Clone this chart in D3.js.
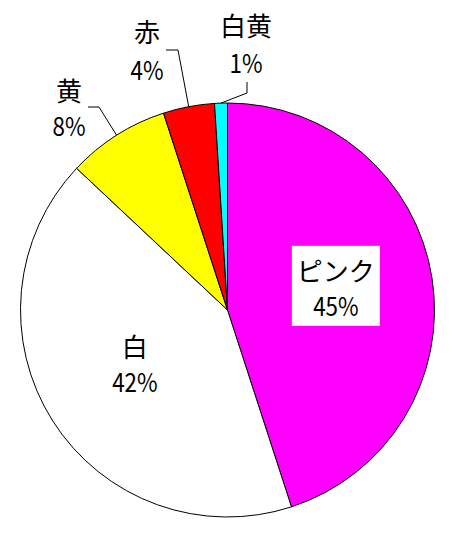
<!DOCTYPE html>
<html><head><meta charset="utf-8">
<script src="https://cdn.jsdelivr.net/npm/d3@7"></script>
<style>html,body{margin:0;padding:0;background:#fff;}svg{display:block;}</style>
</head><body>
<svg id="c" width="452" height="541"></svg>
<script>
// Data
const categories = ["ピンク", "白", "黄", "赤", "白黄"];
const values = [45, 42, 8, 4, 1];
const percentLabels = ["45%", "42%", "8%", "4%", "1%"];
const colors = ["#FF00FF", "#FFFFFF", "#FFFF00", "#FF0000", "#00FFFF"];

// Layout (not data)
const W = 452, H = 541, cx = 227.5, cy = 310, R = 207;
const fontFam = "'Noto Sans CJK JP', 'Noto Sans', sans-serif";
const fs = 26;
const outside = {
  "黄":   {x: 69,  b1: 101, b2: 136, ex: 99,  ey: 107, tx: 88,  ty: 107},
  "赤":   {x: 147, b1: 42,  b2: 80,  ex: 178, ey: 50,  tx: 166, ty: 50},
  "白黄": {x: 246, b1: 36,  b2: 73,  ex: 247, ey: 93,  tx: 247, ty: 82}
};

const svg = d3.select("#c");
const g = svg.append("g").attr("transform", `translate(${cx},${cy})`);

const pie = d3.pie().sort(null).value(d => d.v);
const data = categories.map((c, i) => ({c, v: values[i], p: percentLabels[i], col: colors[i]}));
const arcs = pie(data);
const arc = d3.arc().innerRadius(0).outerRadius(R);
const rimArc = d3.arc().innerRadius(R).outerRadius(R);
const labelArc = d3.arc().innerRadius(R * 1.06).outerRadius(0);

g.selectAll("path.slice").data(arcs).join("path")
  .attr("class", "slice")
  .attr("d", arc)
  .attr("fill", d => d.data.col)
  .attr("stroke", "#000")
  .attr("stroke-width", 1);

function addText(parent, x, y, str, narrow) {
  const t = parent.append("text").attr("text-anchor", "middle")
    .attr("font-family", fontFam).attr("font-size", fs)
    .attr("font-weight", 400)
    .attr("fill", "#000").attr("x", x).attr("y", y).text(str);
  if (narrow) {
    const w = t.node().getComputedTextLength();
    t.attr("textLength", w * 0.86).attr("lengthAdjust", "spacingAndGlyphs");
  }
  return t;
}

arcs.forEach(d => {
  const o = outside[d.data.c];
  if (o) {
    const s = rimArc.centroid(d);
    const pts = [[s[0] + cx, s[1] + cy], [o.ex, o.ey], [o.tx, o.ty]];
    svg.append("path")
      .attr("d", d3.line()(pts))
      .attr("fill", "none").attr("stroke", "#000").attr("stroke-width", 1);
    addText(svg, o.x, o.b1, d.data.c, false);
    addText(svg, o.x, o.b2, d.data.p, true);
  } else {
    const c = labelArc.centroid(d);
    const x = c[0] + cx, y = c[1] + cy;
    const lg = svg.append("g");
    const t1 = addText(lg, x, y - 12, d.data.c, false);
    const t2 = addText(lg, x, y + 23, d.data.p, true);
    if (d.data.c === "ピンク") {
      const b1 = t1.node().getBBox(), b2 = t2.node().getBBox();
      const x0 = Math.min(b1.x, b2.x), x1 = Math.max(b1.x + b1.width, b2.x + b2.width);
      const y0 = b1.y, y1 = b2.y + b2.height;
      lg.insert("rect", "text")
        .attr("x", x0 - 5).attr("y", y0 - 5)
        .attr("width", x1 - x0 + 10).attr("height", y1 - y0 + 8)
        .attr("fill", "#fff");
    }
  }
});
</script>
</body></html>
